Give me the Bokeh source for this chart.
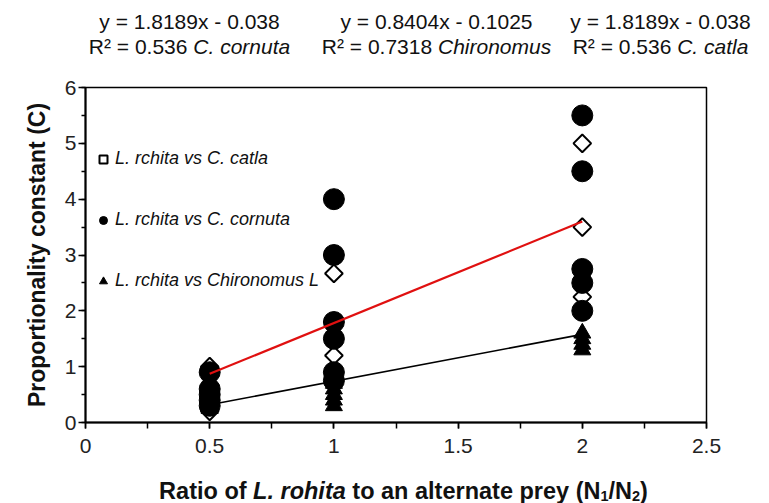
import numpy as np
from bokeh.plotting import figure
from bokeh.layouts import column
from bokeh.models import (Range1d, FixedTicker, NumeralTickFormatter,
                          Legend, LegendItem)
from bokeh.core.properties import value
from bokeh.embed import file_html
from bokeh.resources import INLINE

# ---------------- data ----------------
catla_x = [0.5, 0.5, 1, 1, 2, 2, 2]
catla_y = [1.0, 0.2, 2.67, 1.2, 5.0, 3.5, 2.25]

cornuta_x = [0.5, 0.5, 0.5, 0.5, 0.5, 1, 1, 1, 1, 1, 1, 2, 2, 2, 2, 2]
cornuta_y = [0.9, 0.6, 0.5, 0.4, 0.3, 4.0, 3.0, 1.8, 1.5, 0.9, 0.75,
             5.5, 4.5, 2.75, 2.5, 2.0]

chiro_x = [0.5, 0.5, 0.5, 1, 1, 1, 1, 1, 2, 2, 2, 2]
chiro_y = [0.35, 0.3, 0.25, 0.7, 0.6, 0.5, 0.4, 0.3, 1.6, 1.5, 1.4, 1.3]

fit_x = [0.5, 2.0]
fit_slopes = [1.8189, 0.8404]        # C. cornuta / Chironomus
fit_intercepts = [-0.038, -0.1025]

eq_texts = ["y = 1.8189x - 0.038", "y = 0.8404x - 0.1025", "y = 1.8189x - 0.038"]
r2_texts = ["R\u00b2 = 0.536 ", "R\u00b2 = 0.7318 ", "R\u00b2 = 0.536 "]
species_texts = ["C. cornuta", "Chironomus", "C. catla"]

legend_labels = ["L. rchita vs C. catla", "L. rchita vs C. cornuta",
                 "L. rchita vs Chironomus L"]

x_ticks = [0, 0.5, 1, 1.5, 2, 2.5]
y_ticks = [0, 1, 2, 3, 4, 5, 6]

# ---------------- layout helpers ----------------
W = 769
TOP_H, MAIN_H, BOT_H = 60, 405, 38
FONT = "Liberation Sans"
INK = "#111111"

REG = {' ': 278, 'R': 722, '\u00b2': 333, '=': 584, '.': 278, 'C': 722, 'c': 500,
       'o': 556, 'r': 333, 'n': 556, 'u': 556, 't': 278, 'a': 556, 'h': 556,
       'i': 222, 'm': 833, 's': 500, 'l': 222, 'y': 500, 'x': 500, '-': 333}
for d in "0123456789":
    REG[d] = 556
BOLD = {' ': 278, 'R': 722, 'a': 556, 't': 333, 'i': 278, 'o': 611, 'f': 333,
        'L': 611, '.': 278, 'r': 389, 'h': 611, 'n': 611, 'l': 278, 'e': 556,
        'p': 611, 'y': 556, '(': 333, ')': 333, 'N': 722, '/': 278, '1': 556,
        '2': 556}


def tw(s, table, size):
    return sum(table.get(ch, 556) for ch in s) * size / 1000.0


def strip_panel(h):
    f = figure(width=W, height=h, x_range=Range1d(0, W), y_range=Range1d(h, 0),
               output_backend="svg", toolbar_location=None,
               x_axis_type=None, y_axis_type=None, frame_align=False,
               min_border=0, min_border_left=0, min_border_right=0,
               min_border_top=0, min_border_bottom=0)
    f.outline_line_color = None
    f.xgrid.visible = False
    f.ygrid.visible = False
    f.background_fill_color = "white"
    f.border_fill_color = "white"
    return f


def put(f, x_px, y_px, text, size, style="normal", align="left",
        baseline="middle", table=REG):
    stripped = text.lstrip(" ")
    x_px += tw(text[:len(text) - len(stripped)], table, size)
    f.text(x=[x_px], y=[y_px], text=[stripped], text_align=align,
           text_baseline=baseline, text_font=value(FONT),
           text_font_size=value(f"{size}px"), text_font_style=style,
           text_color=INK)


# ---------------- top strip: regression equations ----------------
top = strip_panel(TOP_H)
centers = [189, 436, 660]
EQ = 21
for cx, eq, r2, sp in zip(centers, eq_texts, r2_texts, species_texts):
    put(top, cx, 21, eq, EQ, align="center")
    total = tw(r2, REG, EQ) + tw(sp, REG, EQ)
    x0 = cx - total / 2
    put(top, x0, 46, r2, EQ)
    put(top, x0 + tw(r2, REG, EQ), 46, sp, EQ, style="italic")

# ---------------- main plot ----------------
p = figure(width=W, height=MAIN_H, x_range=Range1d(0, 2.5), y_range=Range1d(0, 6),
           output_backend="svg", toolbar_location=None, frame_align=False,
           min_border_left=85, min_border_right=63,
           min_border_top=87 - TOP_H, min_border_bottom=TOP_H + MAIN_H - 422)
p.background_fill_color = "white"
p.border_fill_color = "white"
p.xgrid.visible = False
p.ygrid.visible = False
p.outline_line_color = "black"
p.outline_line_width = 1.5

minor_x = list(np.arange(0, 2.51, 0.25))
minor_y = list(np.arange(0, 6.01, 0.5))
p.xaxis.ticker = FixedTicker(ticks=x_ticks, minor_ticks=minor_x)
p.yaxis.ticker = FixedTicker(ticks=y_ticks, minor_ticks=minor_y)
p.xaxis.formatter = NumeralTickFormatter(format="0.[0]")
p.yaxis.formatter = NumeralTickFormatter(format="0")

for ax in (p.xaxis, p.yaxis):
    ax.axis_line_color = "black"
    ax.axis_line_width = 2
    ax.major_tick_line_color = "black"
    ax.minor_tick_line_color = "black"
    ax.major_tick_line_width = 1.5
    ax.minor_tick_line_width = 1.5
    ax.major_tick_in = 0
    ax.minor_tick_in = 0
    ax.major_label_text_font = FONT
    ax.major_label_text_font_size = "21px"
    ax.major_label_text_color = "#222222"

p.xaxis.major_tick_out = 6
p.xaxis.minor_tick_out = 6
p.xaxis.major_label_standoff = 10
p.yaxis.major_tick_out = 7
p.yaxis.minor_tick_out = 4
p.yaxis.major_label_standoff = 2

p.yaxis.axis_label = "Proportionality constant (C)"
p.yaxis.axis_label_text_font = FONT
p.yaxis.axis_label_text_font_size = "23px"
p.yaxis.axis_label_text_font_style = "bold"
p.yaxis.axis_label_text_color = INK
p.yaxis.axis_label_standoff = 12

r_catla = p.scatter(catla_x, catla_y, marker="square", angle=np.pi / 4, size=12.5,
                    fill_color="white", line_color="black", line_width=2)
r_chiro = p.scatter(chiro_x, chiro_y, marker="triangle", size=17,
                    fill_color="black", line_color="black")
r_corn = p.scatter(cornuta_x, cornuta_y, marker="circle", size=21,
                   fill_color="black", line_color="black")

fx = np.array(fit_x)
p.line(fx, fit_slopes[0] * fx + fit_intercepts[0], line_color="#e01010", line_width=2.2)
p.line(fx, fit_slopes[1] * fx + fit_intercepts[1], line_color="black", line_width=1.6)

legend = Legend(items=[LegendItem(label=legend_labels[0], renderers=[r_catla]),
                       LegendItem(label=legend_labels[1], renderers=[r_corn]),
                       LegendItem(label=legend_labels[2], renderers=[r_chiro])],
                location=(8, 131), orientation="vertical", spacing=40,
                glyph_width=20, glyph_height=20, label_standoff=2,
                padding=0, margin=0, border_line_alpha=0, background_fill_alpha=0,
                label_text_font=FONT, label_text_font_size="18px",
                label_text_font_style="italic", label_text_color=INK)
p.add_layout(legend)

# ---------------- bottom strip: x axis title with italics / subscripts ----------------
bot = strip_panel(BOT_H)
XL = 23.5
SUB = 14.5
parts = [("Ratio of ", "bold", XL, 0), ("L. rohita", "bold italic", XL, 0),
         (" to an alternate prey (N", "bold", XL, 0), ("1", "bold", SUB, 5),
         ("/N", "bold", XL, 0), ("2", "bold", SUB, 5), (")", "bold", XL, 0)]
total = sum(tw(t, BOLD, s) for t, _, s, _ in parts)
xpos = 403 - total / 2
base = 490 - (TOP_H + MAIN_H)
for t, style, s, dy in parts:
    put(bot, xpos, base + dy, t, s, style=style, baseline="alphabetic", table=BOLD)
    xpos += tw(t, BOLD, s)

layout = column(top, p, bot, spacing=0)
open("out.html", "w").write(file_html(layout, INLINE))
